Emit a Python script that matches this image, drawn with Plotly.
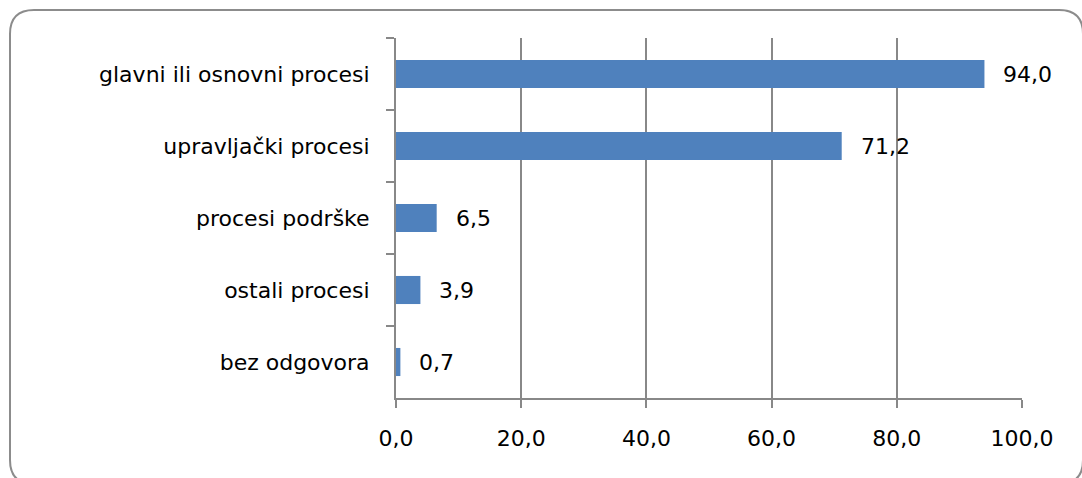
# Import dependencies
import plotly.graph_objects as go

# Chart data
categories = ['glavni ili osnovni procesi', 'upravljački procesi', 'procesi podrške',
              'ostali procesi', 'bez odgovora']
values = [94.0, 71.2, 6.5, 3.9, 0.7]
tick_vals = [0, 20, 40, 60, 80, 100]
tick_text = ['0,0', '20,0', '40,0', '60,0', '80,0', '100,0']

bar_color = '#4F81BD'
grid_color = '#888888'
font_family = 'DejaVu Sans, Liberation Sans, Arial'

# Plot area in pixels (used to place the rounded outer border)
W, H = 1082, 478
L, R, T, B = 396, 60, 38, 80
pw, ph = W - L - R, H - T - B

def px(x):
    return (x - L) / pw

def py(y):
    return (H - B - y) / ph

fig = go.Figure(go.Bar(x = values,
                       y = categories,
                       orientation = 'h',
                       width = 0.39,
                       marker = dict(color = bar_color, line = dict(width = 0)),
                       hoverinfo = 'skip'))

# Value labels to the right of each bar, with comma decimals
for cat, val in zip(categories, values):
    fig.add_annotation(x = val, y = cat, text = f'{val:.1f}'.replace('.', ','),
                       xanchor = 'left', xshift = 17, showarrow = False,
                       font = dict(family = font_family, size = 22, color = '#000000'))

# Rounded border around the whole chart
x0, y0, x1, y1, r = 10, 10, 1083, 484, 24
path = (f'M {px(x0)},{py(y0 + r)} Q {px(x0)},{py(y0)} {px(x0 + r)},{py(y0)} '
        f'L {px(x1 - r)},{py(y0)} Q {px(x1)},{py(y0)} {px(x1)},{py(y0 + r)} '
        f'L {px(x1)},{py(y1 - r)} Q {px(x1)},{py(y1)} {px(x1 - r)},{py(y1)} '
        f'L {px(x0 + r)},{py(y1)} Q {px(x0)},{py(y1)} {px(x0)},{py(y1 - r)} Z')
fig.add_shape(type = 'path', path = path, xref = 'paper', yref = 'paper',
              line = dict(color = '#8c8c8c', width = 2), layer = 'below')

fig.update_layout(width = W, height = H,
                  margin = dict(l = L, r = R, t = T, b = B),
                  paper_bgcolor = 'white', plot_bgcolor = 'white',
                  showlegend = False,
                  font = dict(family = font_family, size = 22, color = '#000000'),
                  xaxis = dict(range = [0, 100], tickvals = tick_vals, ticktext = tick_text,
                               showgrid = True, gridcolor = grid_color, gridwidth = 2,
                               zeroline = False, showline = True, linecolor = grid_color,
                               linewidth = 2, ticks = 'outside', ticklen = 8,
                               tickcolor = grid_color, tickwidth = 2,
                               ticklabelstandoff = 12, fixedrange = True),
                  yaxis = dict(autorange = 'reversed', showgrid = False, zeroline = False,
                               showline = True, linecolor = grid_color, linewidth = 2,
                               ticks = 'outside', ticklen = 8, tickcolor = grid_color,
                               tickwidth = 2, tickson = 'boundaries',
                               ticklabelstandoff = 20, fixedrange = True))

# Drop the page's default body margin so the figure sits at the window corner
fig.write_html("out.html", config = {'displayModeBar': False},
               post_script = "document.body.style.margin = '0'; document.body.style.overflow = 'hidden';")
